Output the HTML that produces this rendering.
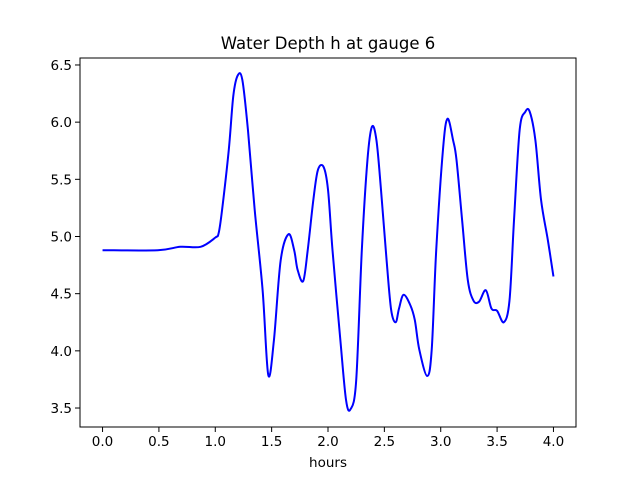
<!DOCTYPE html>
<html><head><meta charset="utf-8"><style>
body{margin:0;background:#fff}
svg text{font-family:"DejaVu Sans","Liberation Sans",sans-serif;fill:#000}
</style></head><body>
<svg id="c" width="640" height="480"></svg>
<script>
const xTicks=[0,0.5,1.0,1.5,2.0,2.5,3.0,3.5,4.0];
const xTickLabels=["0.0","0.5","1.0","1.5","2.0","2.5","3.0","3.5","4.0"];
const yTicks=[3.5,4.0,4.5,5.0,5.5,6.0,6.5];
const yTickLabels=["3.5","4.0","4.5","5.0","5.5","6.0","6.5"];
const hours=[0,0.49,0.69,0.87,1.0,1.03,1.06,1.12,1.16,1.20,1.24,1.29,1.35,1.42,1.47,1.52,1.58,1.65,1.70,1.73,1.78,1.82,1.87,1.91,1.96,2.0,2.04,2.11,2.16,2.2,2.25,2.30,2.35,2.39,2.43,2.47,2.52,2.56,2.60,2.63,2.67,2.73,2.77,2.81,2.88,2.92,2.96,3.02,3.06,3.11,3.14,3.19,3.24,3.29,3.34,3.40,3.45,3.50,3.56,3.61,3.65,3.70,3.75,3.79,3.84,3.89,3.95,4.0];
const depth=[4.88,4.88,4.91,4.91,4.99,5.03,5.23,5.76,6.23,6.41,6.37,5.93,5.23,4.53,3.79,4.09,4.79,5.02,4.88,4.71,4.61,4.88,5.32,5.58,5.61,5.41,4.88,4.09,3.57,3.49,3.74,4.88,5.67,5.96,5.84,5.41,4.79,4.36,4.25,4.37,4.49,4.40,4.27,4.01,3.78,4.01,4.88,5.76,6.03,5.84,5.67,5.14,4.62,4.44,4.43,4.53,4.37,4.35,4.25,4.44,5.14,5.93,6.09,6.09,5.84,5.32,4.97,4.65];
const svg=document.getElementById('c');const NS="http://www.w3.org/2000/svg";
const L=80,R=576,T=58,B=427;
const xmin=-0.2,xmax=4.2,ymin=3.334,ymax=6.561;
const X=v=>L+(v-xmin)/(xmax-xmin)*(R-L);
const Y=v=>B-(v-ymin)/(ymax-ymin)*(B-T);
function mk(t,a){const e=document.createElementNS(NS,t);for(const k in a)e.setAttribute(k,a[k]);svg.appendChild(e);return e;}
const pts=hours.map((h,i)=>[X(h),Y(depth[i])]);
let d="M"+pts[0][0]+","+pts[0][1];
for(let i=0;i<pts.length-1;i++){const p0=pts[Math.max(0,i-1)],p1=pts[i],p2=pts[i+1],p3=pts[Math.min(pts.length-1,i+2)];
d+=" C"+(p1[0]+(p2[0]-p0[0])/6)+","+(p1[1]+(p2[1]-p0[1])/6)+" "+(p2[0]-(p3[0]-p1[0])/6)+","+(p2[1]-(p3[1]-p1[1])/6)+" "+p2[0]+","+p2[1];}
const line=mk('path',{d:d,fill:'none',stroke:'#0000ff','stroke-width':2});


const frame=mk('rect',{x:L,y:T,width:R-L,height:B-T,fill:'none',stroke:'#000','stroke-width':1});


xTicks.forEach((v,i)=>{const x=X(v);
const tk=mk('line',{x1:x,x2:x,y1:B,y2:B+5,stroke:'#000'});


const t=mk('text',{x:x,y:B+19,'font-size':13.5,'text-anchor':'middle'});t.textContent=xTickLabels[i];

});
yTicks.forEach((v,i)=>{const y=Y(v);
const tk=mk('line',{x1:L-5,x2:L,y1:y,y2:y,stroke:'#000'});


const t=mk('text',{x:L-8,y:y+5,'font-size':13.5,'text-anchor':'end'});t.textContent=yTickLabels[i];

});
const ti=mk('text',{x:328,y:49,'font-size':16.5,'text-anchor':'middle'});ti.textContent="Water Depth h at gauge 6";


const xl=mk('text',{x:328,y:467,'font-size':13.5,'text-anchor':'middle'});xl.textContent="hours";


</script>
</body></html>
